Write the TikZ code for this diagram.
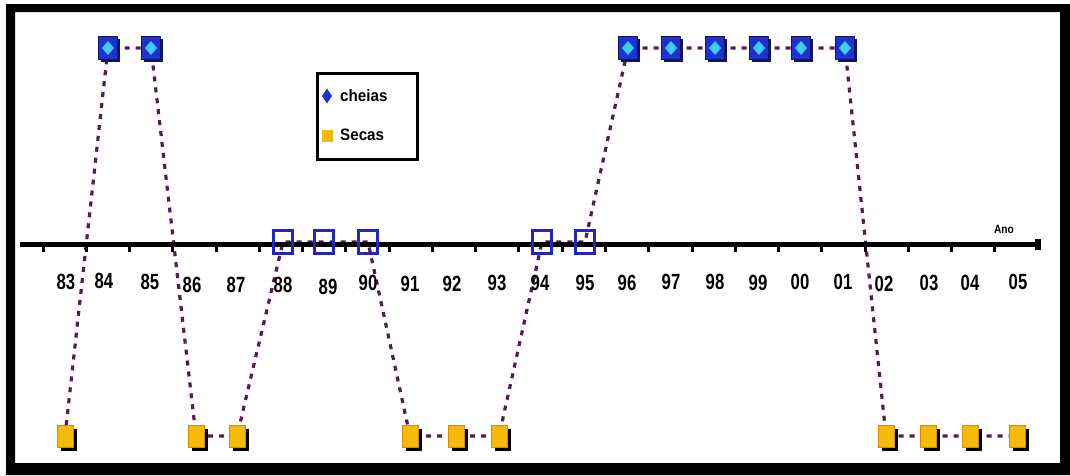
\documentclass[tikz,border=0pt]{standalone}
\usepackage{fontspec}
\usepackage{graphicx}
\setmainfont{Liberation Sans}
\usetikzlibrary{shadows,shapes.geometric}
\pgfdeclarelayer{back}
\pgfdeclarelayer{background}
\pgfsetlayers{back,background,main}
\definecolor{cblue}{RGB}{30,50,205}
\definecolor{cnavy}{RGB}{15,20,100}
\definecolor{ccyan}{RGB}{60,205,245}
\definecolor{corange}{RGB}{247,185,10}
\definecolor{cdorange}{RGB}{215,140,0}
\definecolor{cpurple}{RGB}{90,25,85}
\definecolor{sqblue}{RGB}{35,35,200}
\newcommand{\cond}[2][0.76]{\scalebox{#1}[1]{#2}}
\tikzset{
 cheia/.style={rectangle, minimum width=19pt, minimum height=23pt, inner sep=0pt,
   fill=cblue, draw=cnavy, line width=0.8pt,
   drop shadow={shadow xshift=2pt, shadow yshift=-2pt, fill=cnavy, opacity=1},
   path picture={\fill[ccyan] ([yshift=7pt]path picture bounding box.center)
      -- ++(6pt,-7pt) -- ++(-6pt,-7pt) -- ++(-6pt,7pt) -- cycle;}},
 seca/.style={rectangle, minimum width=16pt, minimum height=22pt, inner sep=0pt,
   fill=corange, draw=cdorange, line width=0.8pt,
   drop shadow={shadow xshift=4pt, shadow yshift=-4pt, fill=black, opacity=1}},
 neutro/.style={rectangle, minimum width=19pt, minimum height=23pt, inner sep=0pt,
   draw=sqblue, line width=2.5pt},
 link/.style={cpurple, line width=3.2pt, dash pattern=on 5pt off 6pt},
 yr/.style={font=\fontsize{22}{22}\selectfont\bfseries, inner sep=0pt},
 legtxt/.style={font=\fontsize{16.5}{16.5}\selectfont\bfseries, inner sep=0pt, anchor=west},
}
\begin{document}
\begin{tikzpicture}[x=1pt,y=-1pt]
\useasboundingbox (0,0) rectangle (1070,475);
\begin{pgfonlayer}{back}
  \fill[white] (0,0) rectangle (1070,475);
  \fill[black,even odd rule] (6,4) rectangle (1070,475) (15,12) rectangle (1060,463);
\end{pgfonlayer}

% axis
\coordinate (ax0) at (20,244.5);
\coordinate (ax1) at (1038,244.5);
\draw[line width=4.5pt] (ax0) -- (ax1);
\fill (1035,239) rectangle (1041,250);
\foreach \i in {0,...,22} {
  \draw[line width=3pt] ({43+43.27*\i},244) -- ++(0,8);
}
\node[font=\fontsize{12}{12}\selectfont\bfseries, inner sep=0pt] (ano) at (1004,229) {\cond[0.85]{Ano}};

% year labels
\foreach \t/\x/\y in {83/66/282,84/104/281,85/150/282,86/192/285,87/236/285,88/283/285,
  89/328/287,90/368/283,91/410/284,92/452/284,93/497/283,94/540/283,95/585/283,
  96/627/283,97/671/282,98/715/282,99/758/283,00/800/282,01/843/282,02/884/284,
  03/929/283,04/970/283,05/1018/282} {
  \node[yr] (y\t) at (\x,\y) {\cond{\t}};
}

% markers
\foreach \n/\x in {84/108,85/151,96/628,97/671,98/715,99/759,00/801,01/845}
  \node[cheia] (c\n) at (\x,48) {};
\foreach \n/\x in {88/283,89/324,90/368,94/542,95/585}
  \node[neutro] (a\n) at (\x,242) {};
\foreach \n/\x in {83/65,86/196,87/237,91/410,92/456,93/499,02/886,03/928,04/970,05/1017}
  \node[seca] (s\n) at (\x,436) {};

% connectors
\begin{pgfonlayer}{background}
\draw[link] (s83.center) -- (c84.center) -- (c85.center) -- (s86.center) -- (s87.center)
  -- (a88.center) -- (a89.center) -- (a90.center) -- (s91.center) -- (s92.center)
  -- (s93.center) -- (a94.center) -- (a95.center) -- (c96.center) -- (c97.center)
  -- (c98.center) -- (c99.center) -- (c00.center) -- (c01.center) -- (s02.center)
  -- (s03.center) -- (s04.center) -- (s05.center);
\end{pgfonlayer}

% legend
\node[draw, line width=3pt, minimum width=100pt, minimum height=86pt, inner sep=0pt] (leg) at (367.5,116.5) {};
\node[diamond, fill=cblue, minimum width=10pt, minimum height=15pt, inner sep=0pt] (ld) at (327,96) {};
\node[legtxt] (lt1) at (340,96) {\cond[0.92]{cheias}};
\node[rectangle, fill=corange, minimum width=11pt, minimum height=12pt, inner sep=0pt] (ls) at (327,136) {};
\node[legtxt] (lt2) at (340,135) {\cond[0.92]{Secas}};
\end{tikzpicture}
\end{document}
